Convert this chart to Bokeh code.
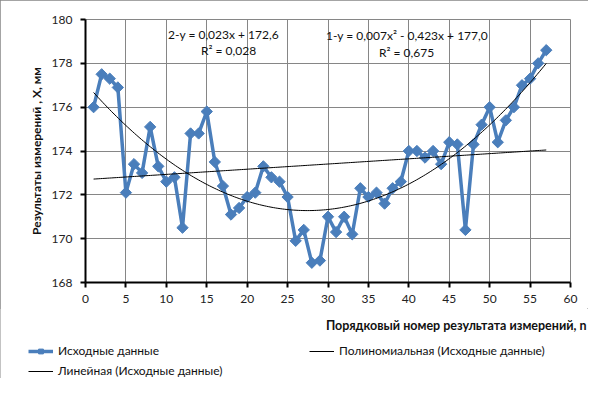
import numpy as np
from bokeh.plotting import figure
from bokeh.layouts import column, row
from bokeh.models import Legend, LegendItem, Label, Range1d, FixedTicker, ColumnDataSource
from bokeh.embed import file_html
from bokeh.resources import INLINE

# ---- data ----
n = list(range(1, 58))
values = [176.0, 177.5, 177.3, 176.9, 172.1, 173.4, 173.0, 175.1, 173.3, 172.6,
          172.8, 170.5, 174.8, 174.8, 175.8, 173.5, 172.4, 171.1, 171.4, 171.9,
          172.1, 173.3, 172.8, 172.6, 171.9, 169.9, 170.4, 168.9, 169.0, 171.0,
          170.3, 171.0, 170.2, 172.3, 171.9, 172.1, 171.6, 172.3, 172.6, 174.0,
          174.0, 173.7, 174.0, 173.4, 174.4, 174.3, 170.4, 174.3, 175.2, 176.0,
          174.4, 175.4, 176.0, 177.0, 177.3, 178.0, 178.6]
x_ticks = [0, 5, 10, 15, 20, 25, 30, 35, 40, 45, 50, 55, 60]
y_ticks = [168, 170, 172, 174, 176, 178, 180]
series_name = "Исходные данные"
poly_name = "Полиномиальная (Исходные данные)"
lin_name = "Линейная (Исходные данные)"
eq_lin = "2-y = 0,023x + 172,6"
r2_lin = "R² = 0,028"
eq_poly = "1-y = 0,007x² - 0,423x + 177,0"
r2_poly = "R² = 0,675"
x_title = "Порядковый номер результата измерений, n"
y_title = "Результаты измерений , Х, мм"

# trendlines fitted from the data (as the spreadsheet does)
xa = np.array(n, dtype=float)
ya = np.array(values)
xs = np.linspace(xa.min(), xa.max(), 200)
poly_y = np.polyval(np.polyfit(xa, ya, 2), xs)
lin_y = np.polyval(np.polyfit(xa, ya, 1), xs)

FONT = "Lato"
GRID = "#868686"
BLUE = "#4A7EBB"
TXT = "#111111"

W = 588
H1 = 308
H2 = 70

p = figure(width=W, height=H1, output_backend="svg", toolbar_location=None,
           x_range=Range1d(0, 60), y_range=Range1d(168, 180),
           min_border_left=85, min_border_right=18, min_border_top=19, min_border_bottom=26)
p.background_fill_color = "white"
p.border_fill_color = "white"
p.outline_line_color = GRID
p.outline_line_width = 1

for ax in (p.xaxis[0], p.yaxis[0]):
    ax.axis_line_color = "black"
    ax.axis_line_width = 2
    ax.major_tick_line_color = "black"
    ax.major_tick_line_width = 2
    ax.major_tick_in = 0
    ax.major_tick_out = 5
    ax.minor_tick_line_color = None
    ax.major_label_text_font = FONT
    ax.major_label_text_font_size = "12px"
    ax.major_label_text_color = "#222222"

p.xaxis.ticker = FixedTicker(ticks=x_ticks)
p.yaxis.ticker = FixedTicker(ticks=y_ticks)
p.xaxis.major_label_standoff = 7
p.yaxis.major_label_standoff = 8
p.yaxis.axis_label = y_title
p.yaxis.axis_label_text_font = FONT
p.yaxis.axis_label_text_font_size = "12px"
p.yaxis.axis_label_text_font_style = "bold"
p.yaxis.axis_label_text_color = TXT
p.yaxis.axis_label_standoff = 5

p.xgrid.grid_line_color = GRID
p.ygrid.grid_line_color = GRID

src = ColumnDataSource(dict(n=n, v=values))
r_line = p.line("n", "v", source=src, line_color=BLUE, line_width=3.5)
r_mark = p.scatter("n", "v", source=src, marker="square", angle=np.pi / 4, size=8,
                   fill_color=BLUE, line_color=BLUE, line_width=1)
r_poly = p.line(xs, poly_y, line_color="black", line_width=1)
r_lin = p.line(xs, lin_y, line_color="black", line_width=1)

def lab(fig, x, y, text, align="center", bold=False, size="12px"):
    fig.add_layout(Label(x=x, y=y, text=text, text_align=align, text_baseline="middle",
                         text_font=FONT, text_font_size=size, text_color=TXT,
                         text_font_style="bold" if bold else "normal"))

lab(p, 17.07, 179.30, eq_lin)
lab(p, 17.69, 178.59, r2_lin)
lab(p, 39.77, 179.27, eq_poly)
lab(p, 39.71, 178.51, r2_poly)

# ---- lower strip: x-axis title and legend (pixel-mapped ranges) ----
p2 = figure(width=W, height=H2, output_backend="svg", toolbar_location=None,
            x_range=Range1d(0, W), y_range=Range1d(0, H2),
            x_axis_location=None, y_axis_location=None,
            min_border=0, min_border_left=0, min_border_right=0,
            min_border_top=0, min_border_bottom=0)
p2.grid.visible = False
p2.outline_line_color = None
p2.background_fill_color = "white"
p2.border_fill_color = "white"

lab(p2, 586, H2 - 17, x_title, align="right", bold=True, size="12.5px")

nan = [np.nan]
k_line = p2.line(x=nan, y=nan, line_color=BLUE, line_width=3.5)
k_mark = p2.scatter(x=nan, y=nan, marker="square", angle=np.pi / 4, size=8,
                    fill_color=BLUE, line_color=BLUE)
k_poly = p2.line(x=nan, y=nan, line_color="black", line_width=1)
k_lin = p2.line(x=nan, y=nan, line_color="black", line_width=1)

leg = Legend(items=[LegendItem(label=series_name, renderers=[k_line, k_mark]),
                    LegendItem(label=poly_name, renderers=[k_poly]),
                    LegendItem(label=lin_name, renderers=[k_lin])],
             orientation="horizontal", ncols=2, location=(28, 0),
             padding=0, margin=0, spacing=5,
             border_line_alpha=0, background_fill_alpha=0,
             glyph_width=25, glyph_height=12, label_height=12, label_standoff=5,
             label_width=246,
             label_text_font=FONT, label_text_font_size="12px", label_text_color=TXT)
p2.add_layout(leg)

layout = column(row(p), row(p2), spacing=0,
                styles={"outline": "1px solid #868686", "outline-offset": "-1px"})

open("out.html", "w").write(file_html(layout, INLINE))
